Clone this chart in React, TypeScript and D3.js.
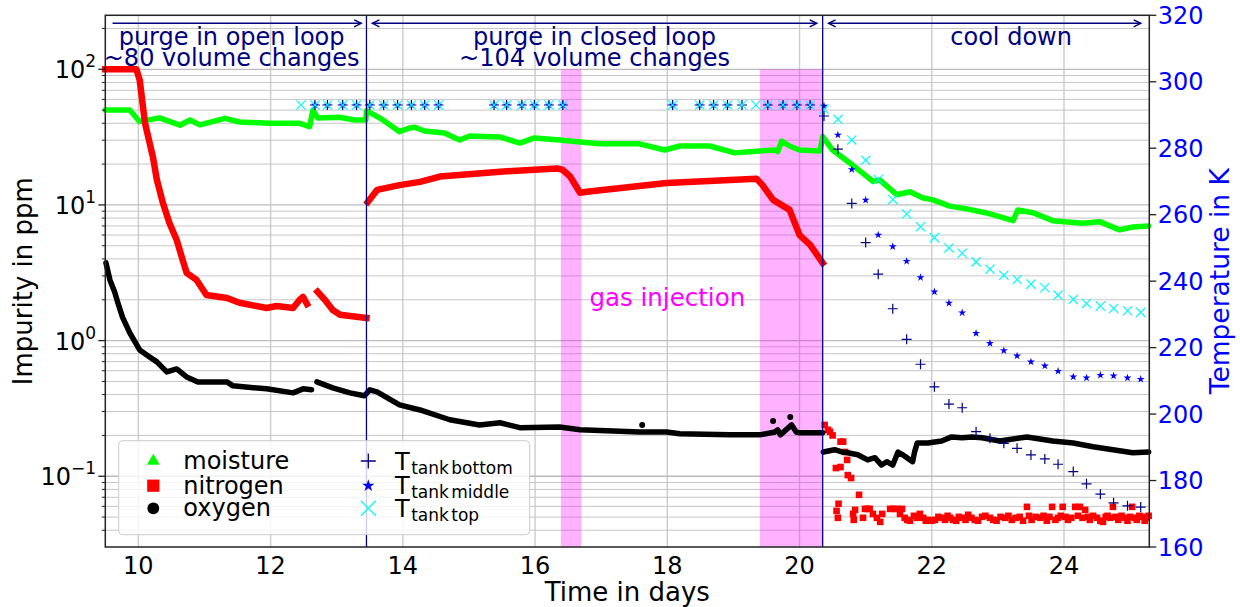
import React from 'react';
import * as d3 from 'd3';

type Pt = [number, number | null];

// time in days / impurity in ppm
const moisture: Pt[] = [
  [9.5, 50.1], [9.87, 50.1], [10.02, 41.1], [10.32, 43.8], [10.63, 38.7], [10.78, 42.3], [10.93, 38.9],
  [11.31, 43.5], [11.53, 40.9], [11.99, 40.0], [12.44, 40.0], [12.59, 37.8], [12.64, 50], [12.71, 43.8],
  [13.04, 44.3], [13.27, 42.3], [13.44, 42.3], [13.45, 49.5], [13.7, 42.3], [13.95, 34.7], [14.1, 36.9],
  [14.18, 37.4], [14.33, 35.1], [14.63, 33.9], [14.86, 30.1], [15.01, 32.2], [15.47, 31.7], [15.77, 28.6],
  [15.99, 31.2], [16.37, 30.1], [16.68, 29.1], [16.98, 28.2], [17.58, 28.2], [17.96, 25.4], [18.19, 27.2],
  [18.64, 27.2], [19.02, 24.2], [19.4, 25.0], [19.63, 25.4], [19.67, 24.7], [19.73, 29.6], [19.85, 27.2],
  [20.0, 25.4], [20.31, 25.0], [20.35, 31.9], [20.5, 25.4], [20.76, 20.4], [21.11, 14.9], [21.21, 15.3],
  [21.47, 11.9], [21.67, 12.5], [21.86, 11.3], [22.02, 10.9], [22.27, 9.8], [22.53, 9.35], [22.83, 8.73],
  [23.23, 7.66], [23.3, 9.18], [23.53, 8.77], [23.83, 7.66], [24.28, 7.33], [24.54, 7.53], [24.84, 6.55],
  [25.04, 6.88], [25.28, 7.0],
];

const nitrogen: Pt[] = [
  [9.5, 100], [9.97, 100], [10.02, 83.4], [10.1, 40.2], [10.22, 22.6], [10.28, 15.3], [10.37, 10.4],
  [10.47, 7.36], [10.58, 5.52], [10.67, 3.93], [10.73, 3.16], [10.88, 2.8], [11.03, 2.17], [11.34, 2.06],
  [11.53, 1.9], [11.94, 1.74], [12.09, 1.8], [12.34, 1.74], [12.44, 2.0], [12.49, 2.1], [12.55, 1.86],
  [12.63, null], [12.71, 2.29], [12.82, 2.0], [12.94, 1.68], [13.05, 1.55], [13.45, 1.47], [13.46, null],
  [13.47, 10.5], [13.61, 12.9], [13.95, 14.0], [14.26, 14.8], [14.56, 16.2], [15.47, 17.6], [16.33, 18.6],
  [16.42, 18.1], [16.53, 16.2], [16.68, 12.3], [16.78, 12.5], [17.99, 14.5], [19.35, 15.6], [19.44, 14.0],
  [19.6, 10.9], [19.85, 9.2], [20.0, 6.0], [20.16, 5.07], [20.35, 3.74],
];

const nitrogenCooldown: Pt[] = [
  [20.38, 0.239], [20.43, 0.22], [20.46, 0.213], [20.5, 0.2], [20.62, 0.18], [20.66, 0.18], [20.69, 0.151],
  [20.72, 0.132], [20.55, 0.115], [20.62, 0.117], [20.73, 0.102], [20.78, 0.097], [20.9, 0.073],
  [20.59, 0.0627], [20.56, 0.0556], [20.58, 0.0494], [20.81, 0.0528], [20.84, 0.0565], [20.82, 0.0477],
  [20.96, 0.0494], [20.99, 0.0575], [21.03, 0.0575], [21.06, 0.0575], [21.11, 0.0528], [21.17, 0.0494],
  [21.22, 0.0461], [21.25, 0.0528], [21.37, 0.0575], [21.42, 0.0575], [21.47, 0.0575], [21.52, 0.0528],
  [21.55, 0.0575], [21.59, 0.0494], [21.63, 0.0477], [21.67, 0.047], [21.73, 0.0511], [21.78, 0.0494],
  [21.82, 0.0528], [21.87, 0.0494], [21.91, 0.047], [21.94, 0.0477], [22.0, 0.047], [22.05, 0.0477],
  [22.1, 0.0502], [22.15, 0.0494], [22.2, 0.0477], [22.24, 0.0511], [22.28, 0.0494], [22.32, 0.0477],
  [22.37, 0.047], [22.41, 0.0502], [22.46, 0.0494], [22.51, 0.0477], [22.55, 0.052], [22.6, 0.0494],
  [22.65, 0.0477], [22.7, 0.047], [22.76, 0.0502], [22.81, 0.0511], [22.88, 0.0494], [22.93, 0.0477],
  [22.98, 0.047], [23.04, 0.0502], [23.11, 0.0494], [23.16, 0.0511], [23.21, 0.0477], [23.27, 0.0494],
  [23.33, 0.0502], [23.38, 0.047], [23.44, 0.0595], [23.47, 0.0511], [23.51, 0.0477], [23.57, 0.0502],
  [23.64, 0.0494], [23.69, 0.0511], [23.74, 0.047], [23.78, 0.0502], [23.82, 0.0595], [23.87, 0.0477],
  [23.91, 0.0494], [23.95, 0.0511], [23.98, 0.0595], [24.02, 0.0502], [24.06, 0.0477], [24.11, 0.0494],
  [24.17, 0.0595], [24.21, 0.0511], [24.24, 0.0595], [24.28, 0.0494], [24.32, 0.0565], [24.36, 0.0502],
  [24.39, 0.0477], [24.44, 0.0511], [24.5, 0.0494], [24.55, 0.047], [24.59, 0.0461], [24.63, 0.0502],
  [24.66, 0.0511], [24.7, 0.0494], [24.74, 0.0595], [24.78, 0.0502], [24.82, 0.0477], [24.87, 0.0511],
  [24.92, 0.0494], [24.96, 0.047], [25.0, 0.0502], [25.03, 0.0595], [25.07, 0.0494], [25.1, 0.0477],
  [25.14, 0.0511], [25.18, 0.0502], [25.22, 0.047], [25.25, 0.0494], [25.28, 0.0511],
];

const oxygen: Pt[] = [
  [9.51, 3.74], [9.57, 2.8], [9.64, 2.29], [9.69, 1.9], [9.76, 1.49], [9.87, 1.14], [10.02, 0.853],
  [10.17, 0.758], [10.28, 0.697], [10.43, 0.588], [10.58, 0.618], [10.73, 0.54], [10.9, 0.496],
  [11.34, 0.496], [11.43, 0.464], [11.94, 0.441], [12.34, 0.412], [12.49, 0.441], [12.62, 0.434],
  [12.66, null], [12.7, 0.496], [12.94, 0.448], [13.2, 0.412], [13.42, 0.392], [13.5, 0.434], [13.61, 0.419],
  [13.95, 0.336], [14.26, 0.308], [14.71, 0.261], [15.16, 0.239], [15.47, 0.248], [15.77, 0.228],
  [16.37, 0.231], [16.68, 0.22], [17.58, 0.212], [17.99, 0.212], [18.19, 0.206], [18.95, 0.202],
  [19.4, 0.202], [19.63, 0.212], [19.67, 0.22], [19.71, 0.202], [19.88, 0.239], [19.95, 0.212],
  [20.0, 0.209], [20.35, 0.209], [20.355, null], [20.36, 0.151], [20.53, 0.157], [20.64, 0.151],
  [20.73, 0.149], [20.88, 0.144], [21.03, 0.132], [21.14, 0.137], [21.24, 0.121], [21.32, 0.128],
  [21.41, 0.121], [21.49, 0.151], [21.56, 0.144], [21.71, 0.128], [21.74, 0.151], [21.78, 0.176],
  [21.94, 0.176], [22.15, 0.182], [22.3, 0.195], [22.46, 0.192], [22.61, 0.195], [22.76, 0.192],
  [23.03, 0.182], [23.44, 0.195], [23.83, 0.182], [24.14, 0.176], [24.44, 0.165], [24.74, 0.157],
  [25.04, 0.149], [25.28, 0.151],
];
const oxygenOutliers: Pt[] = [[17.62, 0.239], [19.6, 0.256], [19.86, 0.274]];

// tank temperatures in K
const tempDays = [
  12.46, 12.67, 12.86, 13.09, 13.3, 13.5, 13.71, 13.92, 14.13, 14.33, 14.54, 15.38, 15.57, 15.8, 15.99,
  16.21, 16.42, 18.08, 18.49, 18.7, 18.91, 19.13, 19.34, 19.52, 19.75, 19.96, 20.16, 20.37, 20.58, 20.79,
  21.0, 21.19, 21.41, 21.62, 21.83, 22.04, 22.26, 22.46, 22.67, 22.88, 23.09, 23.29, 23.5, 23.71, 23.91,
  24.14, 24.34, 24.55, 24.75, 24.96, 25.16,
];
const tBottom = [
  null, 293, 293, 293, 293, 293, 293, 293, 293, 293, 293, 293, 293, 293, 293, 293, 293, 293, 293, 293, 293,
  293, null, 293, 293, 293, 293, 289.7, 279.7, 263.4, 251.6, 242.1, 231.7, 222.5, 215.0, 208.2, 203.0,
  201.9, 194.7, 192.7, 191.2, 189.7, 187.7, 186.5, 184.9, 182.7, 179.0, 175.9, 173.3, 172.4, 172.0,
];
const tMiddle = [
  null, 293, 293, 293, 293, 293, 293, 293, 293, 293, 293, 293, 293, 293, 293, 293, 293, 293, 293, 293, 293,
  null, null, 293, 293, 293, 293, 292.7, 284.0, 273.6, 264.4, 253.9, 250.4, 246.0, 241.1, 236.8, 233.4,
  230.5, 224.3, 221.3, 219.1, 217.5, 215.7, 214.5, 212.9, 211.2, 210.9, 211.7, 211.5, 210.9, 210.5,
];
const tTop = [
  293, 293, 293, 293, 293, 293, 293, 293, 293, 293, 293, 293, 293, 293, 293, 293, 293, 293, 293, 293, 293,
  293, 293, 293, 293, 293, 293, 291.7, 288.7, 282.5, 276.4, 270.6, 264.6, 260.2, 256.4, 253.1, 250.0,
  248.4, 245.8, 243.6, 241.8, 240.5, 239.1, 238.0, 235.8, 234.5, 233.3, 232.5, 231.8, 231.1, 230.6,
];

const xTicks = [10, 12, 14, 16, 18, 20, 22, 24];
const leftDecades = [0.1, 1, 10, 100];
const leftExponents = ['\u22121', '0', '1', '2'];
const rightTicks = [160, 180, 200, 220, 240, 260, 280, 300, 320];

const phaseBounds = [13.45, 20.35];
const gasInjections = [[16.39, 16.7], [19.4, 20.35]];
const phaseArrows = [
  { from: 9.61, to: 13.37, both: false },
  { from: 13.54, to: 20.26, both: true },
  { from: 20.44, to: 25.16, both: true },
];
const phaseLabels = [
  { day: 11.41, lines: ['purge in open loop', '~80 volume changes'] },
  { day: 16.9, lines: ['purge in closed loop', '~104 volume changes'] },
  { day: 23.2, lines: ['cool down'] },
];

const W = 1240, H = 607;
const M = { left: 105.3, right: 1149.3, top: 15.3, bottom: 547 };
const FONT = 'DejaVu Sans, sans-serif';
const NAVY = '#000080';

const plus = (cx: number, cy: number, r: number) => `M${cx - r},${cy}H${cx + r}M${cx},${cy - r}V${cy + r}`;
const cross = (cx: number, cy: number, r: number) =>
  `M${cx - r},${cy - r}L${cx + r},${cy + r}M${cx - r},${cy + r}L${cx + r},${cy - r}`;

export default function App() {
  const x = d3.scaleLinear().domain([9.5, 25.29]).range([M.left, M.right]);
  const yL = d3.scaleLog().domain([0.0301, 250]).range([M.bottom, M.top]);
  const yR = d3.scaleLinear().domain([160, 320]).range([M.bottom, M.top]);

  const line = d3.line<Pt>()
    .defined(d => d[1] != null)
    .x(d => x(d[0]))
    .y(d => yL(d[1] as number));

  const minors: number[] = [];
  for (let k = -2; k <= 2; k++) {
    for (let m = 2; m <= 9; m++) {
      const v = m * Math.pow(10, k);
      if (v > 0.0301 && v < 250) minors.push(v);
    }
  }

  const star = d3.symbol().type(d3.symbolStar).size(20)() as string;
  const starBig = d3.symbol().type(d3.symbolStar).size(48)() as string;
  const tri = d3.symbol().type(d3.symbolTriangle).size(70)() as string;
  const sq = d3.symbol().type(d3.symbolSquare).size(150)() as string;
  const circ = d3.symbol().type(d3.symbolCircle).size(110)() as string;

  const arrowY = 23.3;
  const legendRows = [461, 485.7, 508.3];

  return (
    <svg width={W} height={H} style={{ position: 'absolute', left: 0, top: 0, background: '#fff' }}
      fontFamily={FONT}>
      {/* grid */}
      {xTicks.map(t => (
        <line key={'gx' + t} x1={x(t)} x2={x(t)} y1={M.top} y2={M.bottom} stroke="#cccccc" strokeWidth={1.4} />
      ))}
      {minors.map(v => (
        <line key={'gm' + v} x1={M.left} x2={M.right} y1={yL(v)} y2={yL(v)} stroke="#c6c6c6" strokeWidth={1} />
      ))}
      {leftDecades.map(v => (
        <line key={'gM' + v} x1={M.left} x2={M.right} y1={yL(v)} y2={yL(v)} stroke="#bcbcbc" strokeWidth={1.3} />
      ))}

      {/* gas injection spans */}
      {gasInjections.map(([a, b], i) => (
        <rect key={'gi' + i} x={x(a)} width={x(b) - x(a)} y={yL(100)} height={M.bottom - yL(100)}
          fill="#ff00ff" fillOpacity={0.3} />
      ))}
      <text x={x(18.0)} y={306} textAnchor="middle" fontSize={24.5} fill="#ff00ff">gas injection</text>

      {/* impurities */}
      <path d={line(moisture) as string} fill="none" stroke="#00ff00" strokeWidth={5.5}
        strokeLinejoin="round" strokeLinecap="round" />
      <path d={line(nitrogen) as string} fill="none" stroke="#ff0000" strokeWidth={6.5}
        strokeLinejoin="round" strokeLinecap="square" />
      {nitrogenCooldown.map((d, i) => (
        <rect key={'nc' + i} x={x(d[0]) - 3.3} y={yL(d[1] as number) - 3.3} width={6.6} height={6.6} fill="#ff0000" />
      ))}
      <path d={line(oxygen) as string} fill="none" stroke="#000" strokeWidth={5.5}
        strokeLinejoin="round" strokeLinecap="round" />
      {oxygenOutliers.map((d, i) => (
        <circle key={'oo' + i} cx={x(d[0])} cy={yL(d[1] as number)} r={3} fill="#000" />
      ))}

      {/* temperatures */}
      {tempDays.map((t, i) => tBottom[i] == null ? null : (
        <path key={'tb' + i} d={plus(x(t), yR(tBottom[i] as number), 5)} stroke={NAVY} strokeWidth={1.2} />
      ))}
      {tempDays.map((t, i) => tMiddle[i] == null ? null : (
        <path key={'tm' + i} d={star} transform={`translate(${x(t)},${yR(tMiddle[i] as number)})`} fill="#0000ff" />
      ))}
      {tempDays.map((t, i) => tTop[i] == null ? null : (
        <path key={'tt' + i} d={cross(x(t), yR(tTop[i] as number), 4.6)} stroke="#00ffff" strokeWidth={1.2} />
      ))}

      {/* phases */}
      {phaseBounds.map(t => (
        <line key={'pb' + t} x1={x(t)} x2={x(t)} y1={M.top} y2={M.bottom} stroke={NAVY} strokeWidth={1.3} />
      ))}
      {phaseArrows.map((a, i) => {
        const x1 = x(a.from), x2 = x(a.to);
        return (
          <g key={'pa' + i} stroke={NAVY} strokeWidth={1.5} fill="none">
            <line x1={x1} x2={x2} y1={arrowY} y2={arrowY} />
            <path d={`M${x2 - 7},${arrowY - 3.5}L${x2},${arrowY}L${x2 - 7},${arrowY + 3.5}`} />
            {a.both && <path d={`M${x1 + 7},${arrowY - 3.5}L${x1},${arrowY}L${x1 + 7},${arrowY + 3.5}`} />}
          </g>
        );
      })}
      {phaseLabels.map((p, i) => (
        <text key={'pl' + i} x={x(p.day)} y={45} textAnchor="middle" fontSize={24} fill={NAVY}>
          {p.lines.map((l, j) => (
            <tspan key={j} x={x(p.day)} dy={j === 0 ? 0 : 20.5}>{l}</tspan>
          ))}
        </text>
      ))}

      {/* legend */}
      <rect x={118.7} y={440.7} width={411} height={94} rx={4} fill="#fff" fillOpacity={0.8} stroke="#cccccc" />
      <path d={tri} transform={`translate(153.3,${legendRows[0]})`} fill="#00ff00" />
      <path d={sq} transform={`translate(153.3,${legendRows[1]})`} fill="#ff0000" />
      <path d={circ} transform={`translate(153.3,${legendRows[2]})`} fill="#000" />
      {['moisture', 'nitrogen', 'oxygen'].map((s, i) => (
        <text key={s} x={183.3} y={legendRows[i] + 8} fontSize={24} fill="#000">{s}</text>
      ))}
      <path d={plus(368.3, legendRows[0], 7.5)} stroke={NAVY} strokeWidth={1.3} />
      <path d={starBig} transform={`translate(368.3,${legendRows[1]})`} fill="#0000ff" />
      <path d={cross(368.3, legendRows[2], 7.5)} stroke="#00ffff" strokeWidth={1.3} />
      {['tank bottom', 'tank middle', 'tank top'].map((s, i) => (
        <text key={s} x={395} y={legendRows[i] + 8.5} fontSize={24} fill="#000">
          T<tspan dx={1.5} dy={4} fontSize={17} wordSpacing={-3}>{s}</tspan>
        </text>
      ))}

      {/* spines */}
      <rect x={M.left} y={M.top} width={M.right - M.left} height={M.bottom - M.top} fill="none"
        stroke="#222" strokeWidth={1.5} />

      {/* left axis */}
      {minors.map(v => (
        <line key={'tm' + v} x1={M.left - 3.5} x2={M.left} y1={yL(v)} y2={yL(v)} stroke="#222" strokeWidth={1} />
      ))}
      {leftDecades.map((v, i) => (
        <g key={'ld' + v}>
          <line x1={M.left - 7} x2={M.left} y1={yL(v)} y2={yL(v)} stroke="#222" strokeWidth={1.3} />
          <text x={96} y={yL(v) + 9} textAnchor="end" fontSize={24} fill="#000">
            10<tspan dy={-11} fontSize={17}>{leftExponents[i]}</tspan>
          </text>
        </g>
      ))}
      <text transform={`translate(32,${(M.top + M.bottom) / 2}) rotate(-90)`} textAnchor="middle"
        fontSize={26} fill="#000">Impurity in ppm</text>

      {/* right axis */}
      {rightTicks.map(v => (
        <g key={'rt' + v}>
          <line x1={M.right} x2={M.right + 7} y1={yR(v)} y2={yR(v)} stroke="#222" strokeWidth={1.3} />
          <text x={M.right + 8.5} y={yR(v) + 8.7} fontSize={24} fill="#0000ff">{v}</text>
        </g>
      ))}
      <text transform={`translate(1229,${(M.top + M.bottom) / 2}) rotate(-90)`} textAnchor="middle"
        fontSize={26.5} fill="#0000ff">Temperature in K</text>

      {/* bottom axis */}
      {xTicks.map(t => (
        <text key={'xt' + t} x={x(t)} y={573.5} textAnchor="middle" fontSize={24} fill="#000">{t}</text>
      ))}
      <text x={(M.left + M.right) / 2} y={601} textAnchor="middle" fontSize={26} fill="#000">Time in days</text>
    </svg>
  );
}
